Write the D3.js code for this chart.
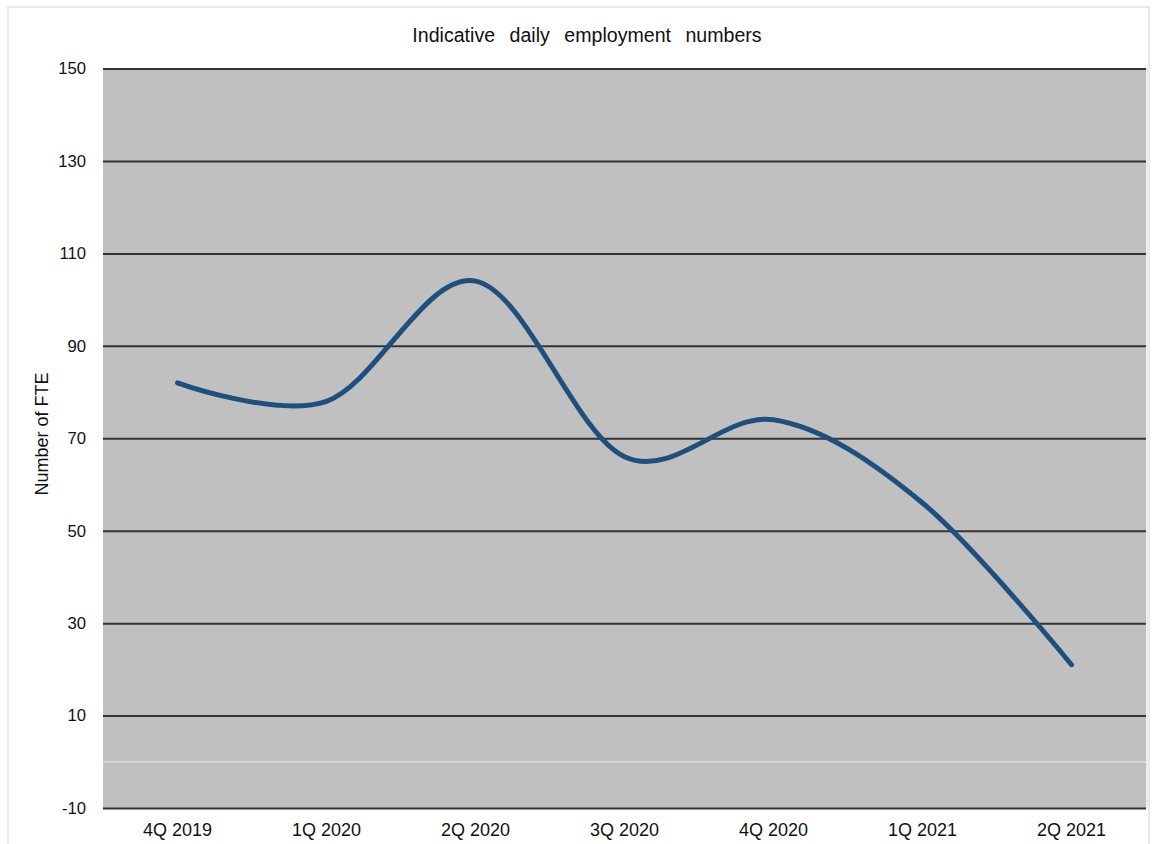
<!DOCTYPE html>
<html><head><meta charset="utf-8">
<script src="https://cdn.jsdelivr.net/npm/d3@7"></script>
<style>body{margin:0;background:#fff;}svg{display:block;font-family:"Liberation Sans",Arial,sans-serif;}</style>
</head><body>
<script>
const categories = ["4Q 2019","1Q 2020","2Q 2020","3Q 2020","4Q 2020","1Q 2021","2Q 2021"];
const values = [82, 78, 104, 66, 74, 56, 21];
const yTicks = [-10, 10, 30, 50, 70, 90, 110, 130, 150];
const title = "Indicative daily employment numbers";
const yTitle = "Number of FTE";

const W = 1157, H = 844;
const m = {left:103, right:1146, top:68.5, bottom:808};
const svg = d3.select("body").append("svg").attr("width", W).attr("height", H);

// outer frame
svg.append("rect").attr("x",8).attr("y",7).attr("width",1141).attr("height",850)
  .attr("fill","#fff").attr("stroke","#e2e2e2").attr("stroke-width",1.5);

const x = d3.scaleBand().domain(categories).range([m.left, m.right]);
const y = d3.scaleLinear().domain([-10,150]).range([m.bottom, m.top]);

svg.append("rect").attr("x",m.left).attr("y",m.top).attr("width",m.right-m.left).attr("height",m.bottom-m.top)
  .attr("fill","#c0c0c0");
svg.append("line").attr("x1",m.right+1).attr("x2",m.right+1).attr("y1",m.top).attr("y2",m.bottom)
  .attr("stroke","#e6e6e6").attr("stroke-width",1.5);

// zero line
svg.append("line").attr("x1",m.left).attr("x2",m.right).attr("y1",y(0)).attr("y2",y(0))
  .attr("stroke","#dadada").attr("stroke-width",1.5);

// gridlines + y axis
const yAxis = d3.axisLeft(y).tickValues(yTicks).tickFormat(d => String(d))
  .tickSize(-(m.right-m.left)).tickPadding(17);
const gy = svg.append("g").attr("transform",`translate(${m.left},0)`).call(yAxis);
gy.select(".domain").remove();
gy.selectAll(".tick line").attr("stroke","#333").attr("stroke-width",2);
gy.selectAll(".tick text").attr("font-size",16.7).attr("fill","#111").attr("font-family","'Liberation Sans',Arial,sans-serif");

// x axis
const xAxis = d3.axisBottom(x).tickSize(0).tickPadding(15);
const gx = svg.append("g").attr("transform",`translate(0,${m.bottom})`).call(xAxis);
gx.select(".domain").remove();
gx.selectAll(".tick text").attr("font-size",18).attr("fill","#111").attr("font-family","'Liberation Sans',Arial,sans-serif");

// line
const line = d3.line().x((d,i)=>x(categories[i]) + x.bandwidth()/2).y(d=>y(d)).curve(d3.curveCatmullRom.alpha(0));
svg.append("path").datum(values).attr("d",line).attr("fill","none")
  .attr("stroke","#1f4f7c").attr("stroke-width",5).attr("stroke-linecap","round");

// titles
svg.append("text").attr("x",587).attr("y",41.5).attr("text-anchor","middle")
  .attr("font-size",19.6).attr("word-spacing","9px").attr("fill","#111").text(title);
svg.append("text").attr("transform",`translate(48,434) rotate(-90)`).attr("text-anchor","middle")
  .attr("font-size",18).attr("fill","#111").text(yTitle);
</script>
</body></html>
